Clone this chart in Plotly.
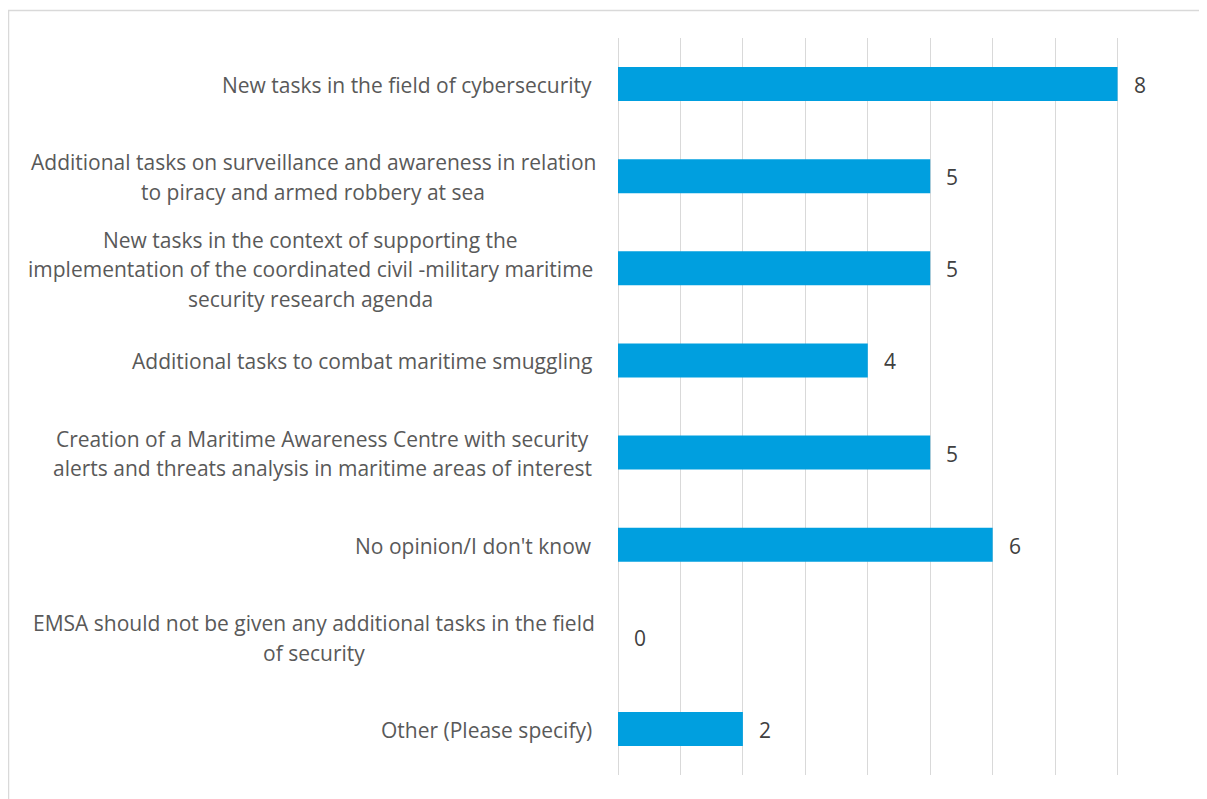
import plotly.graph_objects as go

# ── data ─────────────────────────────────────────────────────────────
labels = [
    ["New tasks in the field of cybersecurity"],
    ["Additional tasks on surveillance and awareness in relation",
     "to piracy and armed robbery at sea"],
    ["New tasks in the context of supporting the",
     "implementation of the coordinated civil -military maritime",
     "security research agenda"],
    ["Additional tasks to combat maritime smuggling"],
    ["Creation of a Maritime Awareness Centre with security",
     "alerts and threats analysis in maritime areas of interest"],
    ["No opinion/I don't know"],
    ["EMSA should not be given any additional tasks in the field",
     "of security"],
    ["Other (Please specify)"],
]
values = [8, 5, 5, 4, 5, 6, 0, 2]

categories = [" ".join(l) for l in labels]

# ── layout helpers ───────────────────────────────────────────────────
# page body adds an 8px offset, so figure coords = screen coords - 8
OFF = 8
W, H = 1207 - OFF, 799 - OFF
L, R, T, B = 618 - OFF, 27, 38 - OFF, 24
PW, PH = W - L - R, H - T - B
FONT = "Open Sans"
FS = 21
LINE_H = 29.5

# screen x of the label block centre (multi-line) or right edge (single)
label_x = [594, 313, 310.5, 594, 322, 594, 313.5, 594]


def px_to_paper(px):
    return (px - OFF - L) / PW


fig = go.Figure()

fig.add_trace(go.Bar(
    x=values,
    y=categories,
    orientation="h",
    marker=dict(color="#009FDF", line=dict(width=0)),
    hoverinfo="x+y",
))

anns = []

# data labels (right of each bar)
for cat, v in zip(categories, values):
    anns.append(dict(
        x=v, xref="x", y=cat, yref="y",
        text=str(v), showarrow=False,
        xanchor="left", yanchor="middle",
        xshift=14, yshift=-1,
        font=dict(family=FONT, size=FS, color="#404040"),
    ))

# category labels (centred multi-line blocks)
for cat, lines, lx in zip(categories, labels, label_x):
    n = len(lines)
    for i, line in enumerate(lines):
        shift = ((n - 1) / 2 - i) * LINE_H
        anns.append(dict(
            x=px_to_paper(lx), xref="paper",
            y=cat, yref="y",
            text=line, showarrow=False,
            xanchor="right" if n == 1 else "center",
            yanchor="middle",
            yshift=shift - 1,
            font=dict(family=FONT, size=FS, color="#595959"),
        ))

fig.update_layout(
    width=W, height=H,
    margin=dict(l=L, r=R, t=T, b=B),
    paper_bgcolor="white",
    plot_bgcolor="white",
    showlegend=False,
    bargap=0.63,
    font=dict(family=FONT, color="#595959"),
    xaxis=dict(
        range=[0, 9], dtick=1, showticklabels=False,
        showgrid=True, gridcolor="#D9D9D9", gridwidth=1,
        zeroline=True, zerolinecolor="#D9D9D9", zerolinewidth=1,
        showline=False, fixedrange=True,
    ),
    yaxis=dict(
        categoryorder="array", categoryarray=categories[::-1],
        showticklabels=False, showgrid=False, zeroline=False,
        showline=False, fixedrange=True,
    ),
    annotations=anns,
    shapes=[dict(
        type="rect", xref="paper", yref="paper",
        x0=px_to_paper(8.5), x1=px_to_paper(1215),
        y0=-(B + 20) / PH, y1=1 + (T - 2.5) / PH,
        line=dict(color="#D9D9D9", width=1.5),
        fillcolor="rgba(0,0,0,0)", layer="below",
    )],
)

fig.write_html("out.html")
